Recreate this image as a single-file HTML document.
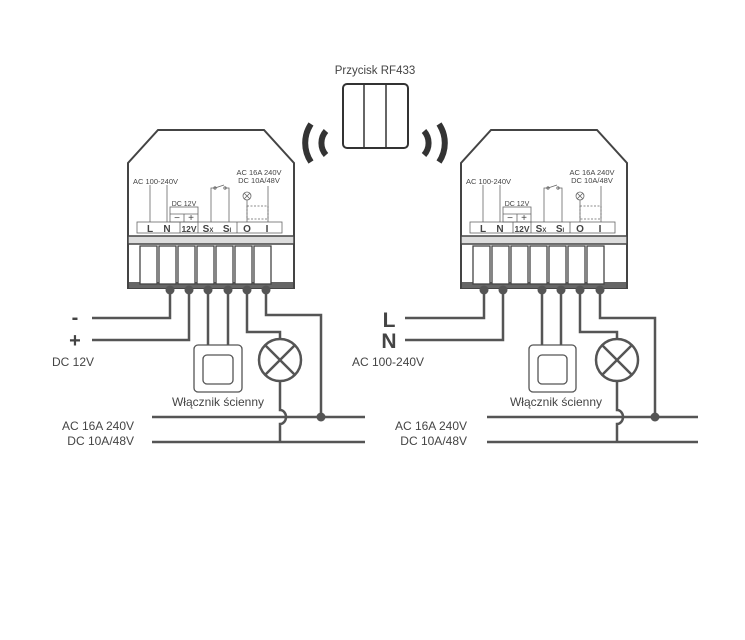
<!DOCTYPE html>
<html><head><meta charset="utf-8"><style>
body{margin:0;background:#fff;width:745px;height:640px;overflow:hidden}
svg{display:block}
text{font-family:"Liberation Sans",sans-serif;fill:#444}
</style></head><body>
<svg width="745" height="640" viewBox="0 0 745 640">
<defs>
<g id="dev">
  <polygon points="30,0 136,0 166,33 166,158 0,158 0,33" fill="#fff" stroke="#444" stroke-width="2"/>
  <rect x="0" y="106" width="166" height="8" fill="#ddd" stroke="#444" stroke-width="1.5"/>
  <rect x="1" y="152" width="164" height="6" fill="#666"/>
  <g fill="#fff" stroke="#444" stroke-width="1.3">
    <rect x="12" y="116" width="17" height="38"/><rect x="31" y="116" width="17" height="38"/>
    <rect x="50" y="116" width="17" height="38"/><rect x="69" y="116" width="17" height="38"/>
    <rect x="88" y="116" width="17" height="38"/><rect x="107" y="116" width="17" height="38"/>
    <rect x="126" y="116" width="17" height="38"/>
  </g>
  <g stroke="#666" stroke-width="0.8" fill="none">
    <rect x="9" y="92" width="145" height="11"/>
    <line x1="52" y1="92" x2="52" y2="103"/><line x1="70" y1="92" x2="70" y2="103"/><line x1="109" y1="92" x2="109" y2="103"/>
    <rect x="42" y="77" width="28" height="15"/><line x1="42" y1="84" x2="70" y2="84"/><line x1="56" y1="84" x2="56" y2="92"/>
    <line x1="22" y1="55" x2="22" y2="92"/><line x1="39" y1="55" x2="39" y2="92"/>
    <polyline points="83,92 83,58 87,58"/><line x1="87" y1="58" x2="96" y2="55"/><polyline points="97,58 101,58 101,92"/>
    <circle cx="87" cy="58" r="1.2"/><circle cx="97" cy="58" r="1.2"/>
    <circle cx="119" cy="66" r="4"/><line x1="116" y1="63" x2="122" y2="69"/><line x1="122" y1="63" x2="116" y2="69"/>
    <line x1="119" y1="70" x2="119" y2="92"/><line x1="140" y1="56" x2="140" y2="92"/>
    <rect x="119" y="76" width="21" height="13" stroke-dasharray="2,1.5"/>
  </g>
  <text x="5" y="54" font-size="7.5">AC 100-240V</text>
  <text x="56" y="76" font-size="7" text-anchor="middle">DC 12V</text>
  <text x="49" y="91" font-size="10" text-anchor="middle">−</text>
  <text x="63" y="91" font-size="10" text-anchor="middle">+</text>
  <text x="131" y="45" font-size="7.5" text-anchor="middle">AC 16A 240V</text>
  <text x="131" y="53" font-size="7.5" text-anchor="middle">DC 10A/48V</text>
  <g font-size="10" font-weight="bold" text-anchor="middle">
    <text x="22" y="102">L</text><text x="39" y="102">N</text><text x="61" y="102" font-size="8.5">12V</text>
    <text x="80" y="102">S<tspan font-size="6">X</tspan></text><text x="99" y="102">S<tspan font-size="6">I</tspan></text>
    <text x="119" y="102">O</text><text x="139" y="102">I</text>
  </g>
</g>
</defs>

<text x="375" y="74" font-size="11.5" text-anchor="middle">Przycisk RF433</text>
<rect x="343" y="84" width="65" height="64" rx="4" fill="#fff" stroke="#333" stroke-width="2"/>
<line x1="364" y1="84" x2="364" y2="148" stroke="#333" stroke-width="1.5"/>
<line x1="386" y1="84" x2="386" y2="148" stroke="#333" stroke-width="1.5"/>
<g fill="none" stroke="#333" stroke-width="6">
  <path d="M326,131 A18,18 0 0 0 326,155"/>
  <path d="M311,124 A34,34 0 0 0 311,162"/>
  <path d="M424,131 A18,18 0 0 1 424,155"/>
  <path d="M439,124 A34,34 0 0 1 439,162"/>
</g>

<use href="#dev" x="128" y="130"/>
<use href="#dev" x="461" y="130"/>

<g stroke="#555" stroke-width="2.5" fill="none">
  <polyline points="92,318 170,318 170,290"/>
  <polyline points="92,340 189,340 189,290"/>
  <line x1="208" y1="290" x2="208" y2="346"/><line x1="228" y1="290" x2="228" y2="346"/>
  <polyline points="247,290 247,332 280,332 280,338"/>
  <polyline points="266,290 266,315 321,315 321,417"/>
  <line x1="152" y1="417" x2="365" y2="417"/>
  <line x1="152" y1="442" x2="365" y2="442"/>
  <circle cx="280" cy="360" r="21"/>
  <line x1="265" y1="345" x2="295" y2="375"/><line x1="295" y1="345" x2="265" y2="375"/>
  <path d="M280,381 L280,410 A6,7 0 0 1 280,424 L280,442"/>
  <polyline points="405,318 484,318 484,290"/>
  <polyline points="405,340 503,340 503,290"/>
  <line x1="542" y1="290" x2="542" y2="346"/><line x1="561" y1="290" x2="561" y2="346"/>
  <polyline points="580,290 580,332 617,332 617,338"/>
  <polyline points="600,290 600,318 655,318 655,417"/>
  <line x1="487" y1="417" x2="698" y2="417"/>
  <line x1="487" y1="442" x2="698" y2="442"/>
  <circle cx="617" cy="360" r="21"/>
  <line x1="602" y1="345" x2="632" y2="375"/><line x1="632" y1="345" x2="602" y2="375"/>
  <path d="M617,381 L617,410 A6,7 0 0 1 617,424 L617,442"/>
</g>
<g fill="#fff" stroke="#555" stroke-width="1.3">
  <rect x="194" y="345" width="48" height="47" rx="4"/>
  <rect x="203" y="355" width="30" height="29" rx="4"/>
  <rect x="529" y="345" width="47" height="47" rx="4"/>
  <rect x="538" y="355" width="29" height="29" rx="4"/>
</g>
<g fill="#555">
  <circle cx="170" cy="290" r="4.5"/><circle cx="189" cy="290" r="4.5"/><circle cx="208" cy="290" r="4.5"/>
  <circle cx="228" cy="290" r="4.5"/><circle cx="247" cy="290" r="4.5"/><circle cx="266" cy="290" r="4.5"/>
  <circle cx="484" cy="290" r="4.5"/><circle cx="503" cy="290" r="4.5"/><circle cx="542" cy="290" r="4.5"/>
  <circle cx="561" cy="290" r="4.5"/><circle cx="580" cy="290" r="4.5"/><circle cx="600" cy="290" r="4.5"/>
  <circle cx="321" cy="417" r="4.5"/><circle cx="655" cy="417" r="4.5"/>
</g>

<text x="75" y="324" font-size="20" font-weight="bold" text-anchor="middle">-</text>
<text x="75" y="347" font-size="20" font-weight="bold" text-anchor="middle">+</text>
<text x="52" y="366" font-size="12">DC 12V</text>
<text x="218" y="406" font-size="12" text-anchor="middle">Włącznik ścienny</text>
<text x="134" y="430" font-size="12" text-anchor="end">AC 16A 240V</text>
<text x="134" y="445" font-size="12" text-anchor="end">DC 10A/48V</text>

<text x="389" y="327" font-size="21" font-weight="bold" text-anchor="middle">L</text>
<text x="389" y="348" font-size="21" font-weight="bold" text-anchor="middle">N</text>
<text x="352" y="366" font-size="12">AC 100-240V</text>
<text x="556" y="406" font-size="12" text-anchor="middle">Włącznik ścienny</text>
<text x="467" y="430" font-size="12" text-anchor="end">AC 16A 240V</text>
<text x="467" y="445" font-size="12" text-anchor="end">DC 10A/48V</text>
</svg>
</body></html>
